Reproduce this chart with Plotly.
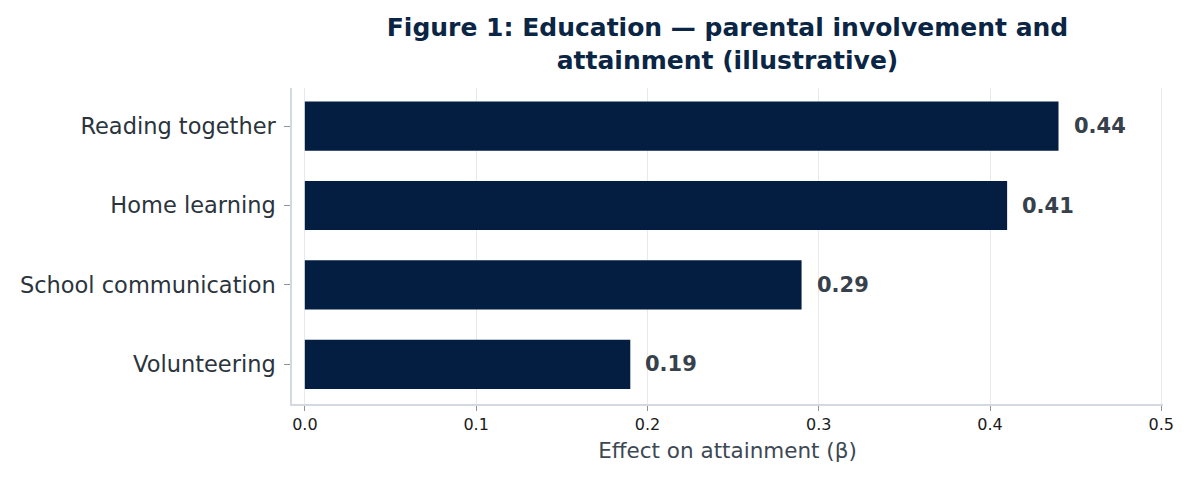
import plotly.graph_objects as go

categories = ['Volunteering', 'School communication', 'Home learning', 'Reading together']
effects = [0.19, 0.29, 0.41, 0.44]
x_ticks = [0.0, 0.1, 0.2, 0.3, 0.4, 0.5]

NAVY = '#041e42'
GRID = '#e4eaee'
SPINE = '#d3d9de'

# the page body has an 8px margin, so the figure is sized to fit the window
W, H = 1188, 473


def _bar_chart():
    fig = go.Figure()

    fig.add_trace(go.Bar(
        x=effects,
        y=categories,
        orientation='h',
        width=0.62,
        marker=dict(color=NAVY, line=dict(width=0)),
        hoverinfo='skip',
    ))

    for cat, val in zip(categories, effects):
        fig.add_annotation(
            x=val,
            y=cat,
            text=f'<b>{val:.2f}</b>',
            xanchor='left',
            xshift=13,
            showarrow=False,
            font=dict(family='DejaVu Sans', size=21, color='#37414b'),
        )

    fig.update_layout(
        width=W,
        height=H,
        margin=dict(l=282, r=33, t=80, b=77),
        plot_bgcolor='white',
        paper_bgcolor='white',
        showlegend=False,
        font=dict(family='DejaVu Sans'),
        title=dict(
            text='<b>Figure 1: Education — parental involvement and<br>attainment (illustrative)</b>',
            x=0.5,
            xref='paper',
            xanchor='center',
            yref='container',
            y=0.940,
            yanchor='middle',
            font=dict(family='DejaVu Sans', size=25, color='#0b2545'),
        ),
    )

    fig.update_xaxes(
        range=[-0.0075, 0.501],
        tickvals=x_ticks,
        ticktext=[f'{t:.1f}' for t in x_ticks],
        showgrid=True,
        gridcolor=GRID,
        gridwidth=1,
        zeroline=False,
        showline=True,
        linecolor=SPINE,
        linewidth=1.5,
        ticks='outside',
        ticklen=5,
        tickcolor='#8d959c',
        tickfont=dict(size=16, color='#1a1a1a'),
        title=dict(
            text='Effect on attainment (β)',
            font=dict(size=21.5, color='#3d4853'),
            standoff=10,
        ),
    )

    fig.update_yaxes(
        range=[-0.5, 3.48],
        showgrid=False,
        zeroline=False,
        showline=True,
        linecolor=SPINE,
        linewidth=1.5,
        ticks='outside',
        ticklen=6,
        tickcolor='#8d959c',
        ticklabelstandoff=4,
        tickfont=dict(size=22.5, color='#2b343d'),
    )

    return fig


fig = _bar_chart()
fig.write_html('out.html')
